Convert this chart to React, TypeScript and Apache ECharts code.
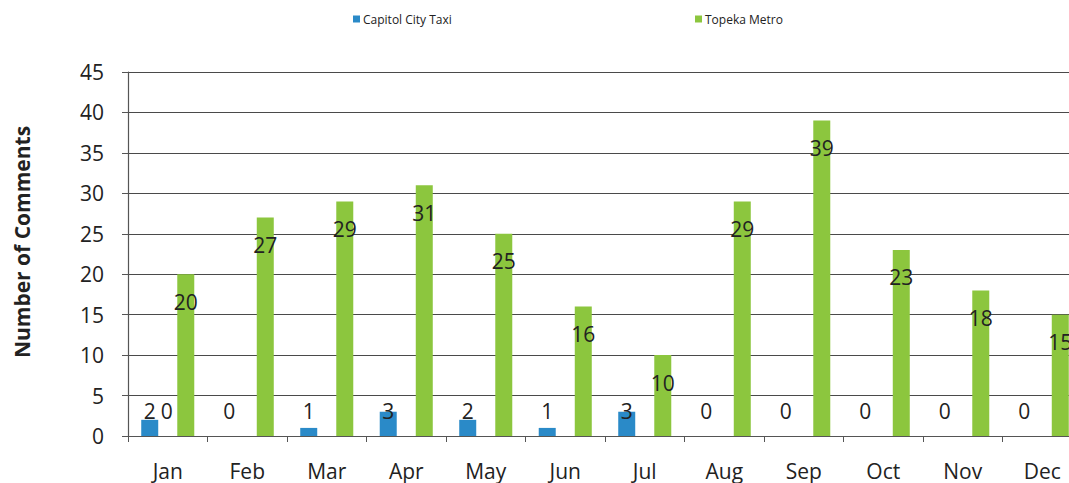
import React, { useEffect, useRef } from "react";
import * as echarts from "echarts";

const months = ["Jan", "Feb", "Mar", "Apr", "May", "Jun", "Jul", "Aug", "Sep", "Oct", "Nov", "Dec"];
const taxi = [2, 0, 1, 3, 2, 1, 3, 0, 0, 0, 0, 0];
const metro = [20, 27, 29, 31, 25, 16, 10, 29, 39, 23, 18, 15];
const extraJan = [0, "-", "-", "-", "-", "-", "-", "-", "-", "-", "-", "-"];
const yTicks = { min: 0, max: 45, interval: 5 };

const FONT = "'Open Sans', 'Noto Sans', sans-serif";

export default function App() {
  const ref = useRef<HTMLDivElement>(null);
  useEffect(() => {
    if (!ref.current) return;
    const chart = echarts.init(ref.current, undefined, { renderer: "svg" });
    chart.setOption({
      animation: false,
      backgroundColor: "#ffffff",
      textStyle: { fontFamily: FONT },
      legend: [
        {
          data: ["Capitol City Taxi"],
          left: 348,
          top: 8,
          itemWidth: 7,
          itemHeight: 7,
          icon: "rect",
          itemGap: 4,
          textStyle: { fontSize: 12, color: "#222", fontFamily: FONT, padding: [0, 0, 0, -2] },
        },
        {
          data: ["Topeka Metro"],
          left: 690,
          top: 8,
          itemWidth: 7,
          itemHeight: 7,
          icon: "rect",
          itemGap: 4,
          textStyle: { fontSize: 12, color: "#222", fontFamily: FONT, padding: [0, 0, 0, -2] },
        },
      ],
      grid: { left: 128, top: 72, width: 954, height: 364, containLabel: false },
      xAxis: {
        type: "category",
        data: months,
        axisLine: { show: true, lineStyle: { color: "#555", width: 1.2 } },
        axisTick: { show: true, length: 6, lineStyle: { color: "#555" } },
        axisLabel: { fontSize: 21, color: "#222", margin: 24, fontFamily: FONT },
      },
      yAxis: {
        type: "value",
        min: yTicks.min,
        max: yTicks.max,
        interval: yTicks.interval,
        name: "Number of Comments",
        nameLocation: "middle",
        nameRotate: 90,
        nameGap: 96,
        nameTextStyle: {
          fontSize: 21,
          fontWeight: "bold",
          color: "#222",
          fontFamily: FONT,
          padding: [0, 0, 0, 24],
        },
        axisLine: { show: true, lineStyle: { color: "#555", width: 1.2 } },
        axisTick: { show: true, length: 6, lineStyle: { color: "#555" } },
        axisLabel: { fontSize: 21, color: "#222", margin: 24, fontFamily: FONT },
        splitLine: { show: true, lineStyle: { color: "#4a4a4a", width: 1.2 } },
      },
      series: [
        {
          name: "Capitol City Taxi",
          type: "bar",
          data: taxi,
          barWidth: 17,
          barGap: "112%",
          itemStyle: { color: "#2a8ac8" },
          label: {
            show: true,
            position: "insideBottom",
            distance: 15,
            fontSize: 21,
            color: "#222",
            fontFamily: FONT,
          },
        },
        {
          name: "Topeka Metro",
          type: "bar",
          data: metro,
          barWidth: 17,
          itemStyle: { color: "#8cc63e" },
          label: {
            show: true,
            position: "insideTop",
            distance: 17,
            fontSize: 21,
            color: "#222",
            fontFamily: FONT,
          },
        },
        {
          name: "extra",
          type: "scatter",
          data: extraJan,
          symbolSize: 0,
          silent: true,
          itemStyle: { opacity: 1, color: "#222" },
          label: {
            show: true,
            position: "top",
            distance: 15,
            offset: [-1, 0],
            fontSize: 21,
            color: "#222",
            opacity: 1,
            fontFamily: FONT,
          },
        },
      ],
    });
    return () => chart.dispose();
  }, []);
  return (
    <div style={{ position: "fixed", left: 0, top: 0, width: 1069, height: 483, overflow: "hidden", background: "#fff" }}>
      <div ref={ref} style={{ width: 1100, height: 483 }} />
    </div>
  );
}
